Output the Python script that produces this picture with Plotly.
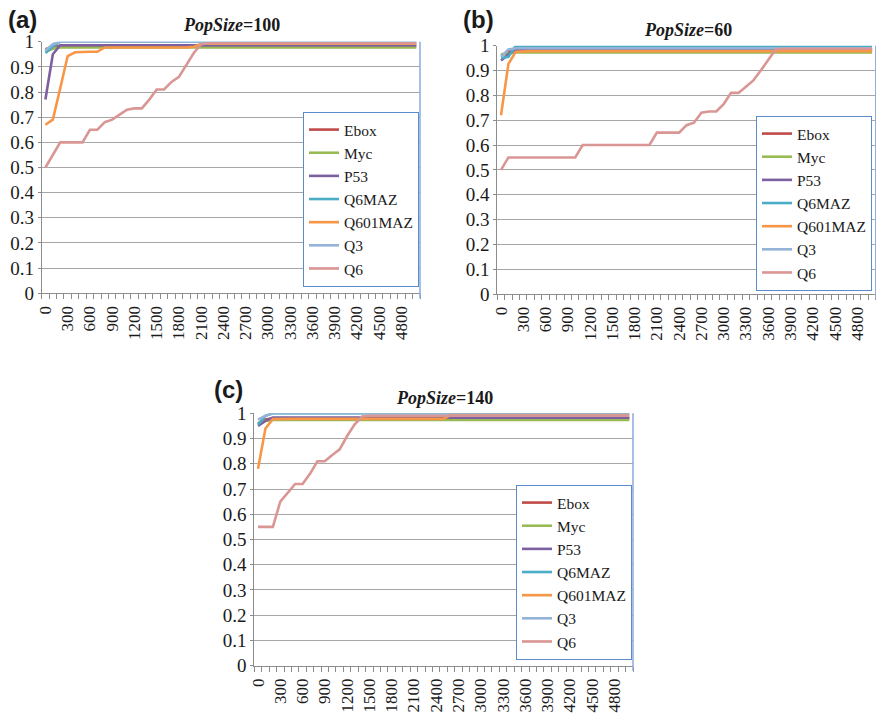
import plotly.graph_objects as go

# ---------------- data ----------------
GENERATIONS = [0, 100, 200, 300, 400, 500, 600, 700, 800, 900,
               1000, 1100, 1200, 1300, 1400, 1500, 1600, 1700, 1800, 1900,
               2000, 2100, 2200, 2300, 2400, 2500, 2600, 2700, 2800, 2900,
               3000, 3100, 3200, 3300, 3400, 3500, 3600, 3700, 3800, 3900,
               4000, 4100, 4200, 4300, 4400, 4500, 4600, 4700, 4800, 4900,
               5000]
TICK_VALUES = [0, 300, 600, 900, 1200, 1500, 1800, 2100, 2400, 2700, 3000,
               3300, 3600, 3900, 4200, 4500, 4800]
TICK_LABELS = ["0", "300", "600", "900", "1200", "1500", "1800", "2100", "2400",
               "2700", "3000", "3300", "3600", "3900", "4200", "4500", "4800"]
SERIES_NAMES = ["Ebox", "Myc", "P53", "Q6MAZ", "Q601MAZ", "Q3", "Q6"]

# (a) PopSize=100
A_EBOX = [0.970, 0.980, 0.983, 0.983, 0.983, 0.983, 0.983, 0.983, 0.983, 0.983,
          0.983, 0.983, 0.983, 0.983, 0.983, 0.983, 0.983, 0.983, 0.983, 0.983,
          0.983, 0.983, 0.983, 0.983, 0.983, 0.983, 0.983, 0.983, 0.983, 0.983,
          0.983, 0.983, 0.983, 0.983, 0.983, 0.983, 0.983, 0.983, 0.983, 0.983,
          0.983, 0.983, 0.983, 0.983, 0.983, 0.983, 0.983, 0.983, 0.983, 0.983,
          0.983]
A_MYC = [0.960, 0.972, 0.977, 0.977, 0.977, 0.977, 0.977, 0.977, 0.977, 0.977,
         0.977, 0.977, 0.977, 0.977, 0.977, 0.977, 0.977, 0.977, 0.977, 0.977,
         0.977, 0.977, 0.977, 0.977, 0.977, 0.977, 0.977, 0.977, 0.977, 0.977,
         0.977, 0.977, 0.977, 0.977, 0.977, 0.977, 0.977, 0.977, 0.977, 0.977,
         0.977, 0.977, 0.977, 0.977, 0.977, 0.977, 0.977, 0.977, 0.977, 0.977,
         0.977]
A_P53 = [0.770, 0.950, 0.986, 0.986, 0.986, 0.986, 0.986, 0.986, 0.986, 0.986,
         0.986, 0.986, 0.986, 0.986, 0.986, 0.986, 0.986, 0.986, 0.986, 0.986,
         0.986, 0.986, 0.986, 0.986, 0.986, 0.986, 0.986, 0.986, 0.986, 0.986,
         0.986, 0.986, 0.986, 0.986, 0.986, 0.986, 0.986, 0.986, 0.986, 0.986,
         0.986, 0.986, 0.986, 0.986, 0.986, 0.986, 0.986, 0.986, 0.986, 0.986,
         0.986]
A_Q6MAZ = [0.955, 0.980, 1.000, 1.000, 1.000, 1.000, 1.000, 1.000, 1.000, 1.000,
           1.000, 1.000, 1.000, 1.000, 1.000, 1.000, 1.000, 1.000, 1.000, 1.000,
           1.000, 1.000, 1.000, 1.000, 1.000, 1.000, 1.000, 1.000, 1.000, 1.000,
           1.000, 1.000, 1.000, 1.000, 1.000, 1.000, 1.000, 1.000, 1.000, 1.000,
           1.000, 1.000, 1.000, 1.000, 1.000, 1.000, 1.000, 1.000, 1.000, 1.000,
           1.000]
A_Q601MAZ = [0.670, 0.690, 0.815, 0.943, 0.958, 0.960, 0.960, 0.960, 0.977, 0.977,
             0.977, 0.977, 0.977, 0.977, 0.977, 0.977, 0.977, 0.977, 0.977, 0.977,
             0.980, 0.992, 0.992, 0.992, 0.992, 0.992, 0.992, 0.992, 0.992, 0.992,
             0.992, 0.992, 0.992, 0.992, 0.992, 0.992, 0.992, 0.992, 0.992, 0.992,
             0.992, 0.992, 0.992, 0.992, 0.992, 0.992, 0.992, 0.992, 0.992, 0.992,
             0.992]
A_Q3 = [0.965, 0.990, 1.000, 1.000, 1.000, 1.000, 1.000, 1.000, 1.000, 1.000,
        1.000, 1.000, 1.000, 1.000, 1.000, 1.000, 1.000, 1.000, 1.000, 1.000,
        1.000, 1.000, 1.000, 1.000, 1.000, 1.000, 1.000, 1.000, 1.000, 1.000,
        1.000, 1.000, 1.000, 1.000, 1.000, 1.000, 1.000, 1.000, 1.000, 1.000,
        1.000, 1.000, 1.000, 1.000, 1.000, 1.000, 1.000, 1.000, 1.000, 1.000,
        1.000]
A_Q6 = [0.500, 0.550, 0.600, 0.600, 0.600, 0.600, 0.650, 0.650, 0.680, 0.690,
        0.710, 0.730, 0.735, 0.735, 0.770, 0.810, 0.810, 0.840, 0.860, 0.910,
        0.955, 0.990, 0.994, 0.994, 0.994, 0.994, 0.994, 0.994, 0.994, 0.994,
        0.994, 0.994, 0.994, 0.994, 0.994, 0.994, 0.994, 0.994, 0.994, 0.994,
        0.994, 0.994, 0.994, 0.994, 0.994, 0.994, 0.994, 0.994, 0.994, 0.994,
        0.994]

# (b) PopSize=60
B_EBOX = [0.960, 0.975, 0.982, 0.982, 0.982, 0.982, 0.982, 0.982, 0.982, 0.982,
          0.982, 0.982, 0.982, 0.982, 0.982, 0.982, 0.982, 0.982, 0.982, 0.982,
          0.982, 0.982, 0.982, 0.982, 0.982, 0.982, 0.982, 0.982, 0.982, 0.982,
          0.982, 0.982, 0.982, 0.982, 0.982, 0.982, 0.982, 0.982, 0.982, 0.982,
          0.982, 0.982, 0.982, 0.982, 0.982, 0.982, 0.982, 0.982, 0.982, 0.982,
          0.982]
B_MYC = [0.965, 0.970, 0.973, 0.973, 0.973, 0.973, 0.973, 0.973, 0.973, 0.973,
         0.973, 0.973, 0.973, 0.973, 0.973, 0.973, 0.973, 0.973, 0.973, 0.973,
         0.973, 0.973, 0.973, 0.973, 0.973, 0.973, 0.973, 0.973, 0.973, 0.973,
         0.973, 0.973, 0.973, 0.973, 0.973, 0.973, 0.973, 0.973, 0.973, 0.973,
         0.973, 0.973, 0.973, 0.973, 0.973, 0.973, 0.973, 0.973, 0.973, 0.973,
         0.973]
B_P53 = [0.940, 0.965, 0.985, 0.985, 0.985, 0.985, 0.985, 0.985, 0.985, 0.985,
         0.985, 0.985, 0.985, 0.985, 0.985, 0.985, 0.985, 0.985, 0.985, 0.985,
         0.985, 0.985, 0.985, 0.985, 0.985, 0.985, 0.985, 0.985, 0.985, 0.985,
         0.985, 0.985, 0.985, 0.985, 0.985, 0.985, 0.985, 0.985, 0.985, 0.985,
         0.985, 0.985, 0.985, 0.985, 0.985, 0.985, 0.985, 0.985, 0.985, 0.985,
         0.985]
B_Q6MAZ = [0.950, 0.955, 1.000, 1.000, 1.000, 1.000, 1.000, 1.000, 1.000, 1.000,
           1.000, 1.000, 1.000, 1.000, 1.000, 1.000, 1.000, 1.000, 1.000, 1.000,
           1.000, 1.000, 1.000, 1.000, 1.000, 1.000, 1.000, 1.000, 1.000, 1.000,
           1.000, 1.000, 1.000, 1.000, 1.000, 1.000, 1.000, 1.000, 1.000, 1.000,
           1.000, 1.000, 1.000, 1.000, 1.000, 1.000, 1.000, 1.000, 1.000, 1.000,
           1.000]
B_Q601MAZ = [0.720, 0.927, 0.976, 0.978, 0.978, 0.978, 0.978, 0.978, 0.978, 0.978,
             0.978, 0.978, 0.978, 0.978, 0.978, 0.978, 0.978, 0.978, 0.978, 0.978,
             0.978, 0.978, 0.978, 0.978, 0.978, 0.978, 0.978, 0.978, 0.978, 0.978,
             0.978, 0.978, 0.978, 0.978, 0.978, 0.978, 0.978, 0.978, 0.978, 0.978,
             0.978, 0.978, 0.978, 0.978, 0.978, 0.978, 0.978, 0.978, 0.978, 0.978,
             0.978]
B_Q3 = [0.955, 0.985, 0.990, 0.990, 0.990, 0.990, 0.990, 0.990, 0.990, 0.990,
        0.990, 0.990, 0.990, 0.990, 0.990, 0.990, 0.990, 0.990, 0.990, 0.990,
        0.990, 0.990, 0.990, 0.990, 0.990, 0.990, 0.990, 0.990, 0.990, 0.990,
        0.990, 0.990, 0.990, 0.990, 0.990, 0.990, 0.990, 0.990, 0.990, 0.990,
        0.990, 0.990, 0.990, 0.990, 0.990, 0.990, 0.990, 0.990, 0.990, 0.990,
        0.990]
B_Q6 = [0.500, 0.550, 0.550, 0.550, 0.550, 0.550, 0.550, 0.550, 0.550, 0.550,
        0.550, 0.600, 0.600, 0.600, 0.600, 0.600, 0.600, 0.600, 0.600, 0.600,
        0.600, 0.650, 0.650, 0.650, 0.650, 0.680, 0.690, 0.730, 0.735, 0.735,
        0.765, 0.810, 0.810, 0.835, 0.860, 0.900, 0.945, 0.985, 0.988, 0.988,
        0.988, 0.988, 0.988, 0.988, 0.988, 0.988, 0.988, 0.988, 0.988, 0.988,
        0.988]

# (c) PopSize=140
C_EBOX = [0.960, 0.975, 0.980, 0.980, 0.980, 0.980, 0.980, 0.980, 0.980, 0.980,
          0.980, 0.980, 0.980, 0.980, 0.980, 0.980, 0.980, 0.980, 0.980, 0.980,
          0.980, 0.980, 0.980, 0.980, 0.980, 0.980, 0.980, 0.980, 0.980, 0.980,
          0.980, 0.980, 0.980, 0.980, 0.980, 0.980, 0.980, 0.980, 0.980, 0.980,
          0.980, 0.980, 0.980, 0.980, 0.980, 0.980, 0.980, 0.980, 0.980, 0.980,
          0.980]
C_MYC = [0.955, 0.970, 0.974, 0.974, 0.974, 0.974, 0.974, 0.974, 0.974, 0.974,
         0.974, 0.974, 0.974, 0.974, 0.974, 0.974, 0.974, 0.974, 0.974, 0.974,
         0.974, 0.974, 0.974, 0.974, 0.974, 0.974, 0.974, 0.974, 0.974, 0.974,
         0.974, 0.974, 0.974, 0.974, 0.974, 0.974, 0.974, 0.974, 0.974, 0.974,
         0.974, 0.974, 0.974, 0.974, 0.974, 0.974, 0.974, 0.974, 0.974, 0.974,
         0.974]
C_P53 = [0.950, 0.970, 0.983, 0.983, 0.983, 0.983, 0.983, 0.983, 0.983, 0.983,
         0.983, 0.983, 0.983, 0.983, 0.983, 0.983, 0.983, 0.983, 0.983, 0.983,
         0.983, 0.983, 0.983, 0.983, 0.983, 0.983, 0.983, 0.983, 0.983, 0.983,
         0.983, 0.983, 0.983, 0.983, 0.983, 0.983, 0.983, 0.983, 0.983, 0.983,
         0.983, 0.983, 0.983, 0.983, 0.983, 0.983, 0.983, 0.983, 0.983, 0.983,
         0.983]
C_Q6MAZ = [0.955, 0.990, 1.000, 1.000, 1.000, 1.000, 1.000, 1.000, 1.000, 1.000,
           1.000, 1.000, 1.000, 1.000, 1.000, 1.000, 1.000, 1.000, 1.000, 1.000,
           1.000, 1.000, 1.000, 1.000, 1.000, 1.000, 1.000, 1.000, 1.000, 1.000,
           1.000, 1.000, 1.000, 1.000, 1.000, 1.000, 1.000, 1.000, 1.000, 1.000,
           1.000, 1.000, 1.000, 1.000, 1.000, 1.000, 1.000, 1.000, 1.000, 1.000,
           1.000]
C_Q601MAZ = [0.780, 0.940, 0.977, 0.978, 0.978, 0.978, 0.978, 0.978, 0.978, 0.978,
             0.978, 0.978, 0.978, 0.978, 0.978, 0.978, 0.978, 0.978, 0.978, 0.978,
             0.978, 0.978, 0.978, 0.978, 0.978, 0.978, 0.995, 0.995, 0.995, 0.995,
             0.995, 0.995, 0.995, 0.995, 0.995, 0.995, 0.995, 0.995, 0.995, 0.995,
             0.995, 0.995, 0.995, 0.995, 0.995, 0.995, 0.995, 0.995, 0.995, 0.995,
             0.995]
C_Q3 = [0.975, 0.990, 1.000, 1.000, 1.000, 1.000, 1.000, 1.000, 1.000, 1.000,
        1.000, 1.000, 1.000, 1.000, 1.000, 1.000, 1.000, 1.000, 1.000, 1.000,
        1.000, 1.000, 1.000, 1.000, 1.000, 1.000, 1.000, 1.000, 1.000, 1.000,
        1.000, 1.000, 1.000, 1.000, 1.000, 1.000, 1.000, 1.000, 1.000, 1.000,
        1.000, 1.000, 1.000, 1.000, 1.000, 1.000, 1.000, 1.000, 1.000, 1.000,
        1.000]
C_Q6 = [0.550, 0.550, 0.550, 0.650, 0.686, 0.720, 0.720, 0.760, 0.810, 0.810,
        0.835, 0.857, 0.910, 0.955, 0.987, 0.990, 0.990, 0.990, 0.990, 0.990,
        0.990, 0.990, 0.990, 0.990, 0.990, 0.990, 0.990, 0.990, 0.990, 0.990,
        0.990, 0.990, 0.990, 0.990, 0.990, 0.990, 0.990, 0.990, 0.990, 0.990,
        0.990, 0.990, 0.990, 0.990, 0.990, 0.990, 0.990, 0.990, 0.990, 0.990,
        0.990]

PANEL_TITLES = ["<b><i>PopSize</i>=100</b>", "<b><i>PopSize</i>=60</b>", "<b><i>PopSize</i>=140</b>"]
PANEL_LETTERS = ["(a)", "(b)", "(c)"]
PANEL_DATA = [
    [A_EBOX, A_MYC, A_P53, A_Q6MAZ, A_Q601MAZ, A_Q3, A_Q6],
    [B_EBOX, B_MYC, B_P53, B_Q6MAZ, B_Q601MAZ, B_Q3, B_Q6],
    [C_EBOX, C_MYC, C_P53, C_Q6MAZ, C_Q601MAZ, C_Q3, C_Q6],
]

# ---------------- styling ----------------
W, H = 876, 716
COLORS = ["#BE4B48", "#98B954", "#7D60A0", "#4AACC5", "#F79646", "#95B3D7", "#D99694"]
GRID = "#A6A6A6"
AXIS = "#8C8C8C"
BORDER_BLUE = "#8AAAD8"
LEGEND_BLUE = "#5B8BC9"
SERIF = "Liberation Serif, Times New Roman, serif"
SANS = "Liberation Sans, Arial, sans-serif"

# plot boxes in pixels: left, right, top, bottom
BOXES = [(41.7, 420.0, 41.7, 293.3),
         (497.3, 875.8, 45.7, 294.0),
         (254.3, 633.0, 413.3, 665.7)]
TITLE_POS = [(231, 25), (688, 30), (444, 398)]
LETTER_POS = [(22, 19), (478, 19), (228, 390)]
LEGEND_POS = [(303, 112), (756, 116), (516, 485)]


def px(x):
    return x / W


def py(y):
    return 1 - y / H


fig = go.Figure()
layout = dict(
    width=W, height=H, autosize=False,
    margin=dict(l=0, r=0, t=0, b=0, pad=0),
    paper_bgcolor="white", plot_bgcolor="white",
    font=dict(family=SERIF, color="#1a1a1a"),
    showlegend=True,
    annotations=[], shapes=[],
)

for p in range(3):
    xa = "x" if p == 0 else f"x{p + 1}"
    ya = "y" if p == 0 else f"y{p + 1}"
    lg = "legend" if p == 0 else f"legend{p + 1}"
    for name, vals, col in zip(SERIES_NAMES, PANEL_DATA[p], COLORS):
        fig.add_trace(go.Scatter(
            x=GENERATIONS, y=vals, name=name, mode="lines",
            line=dict(color=col, width=2.6),
            xaxis=xa, yaxis=ya, legend=lg, showlegend=True,
            cliponaxis=False,
        ))
    l, r, t, b = BOXES[p]
    xkey = "xaxis" if p == 0 else f"xaxis{p + 1}"
    ykey = "yaxis" if p == 0 else f"yaxis{p + 1}"
    layout[xkey] = dict(
        domain=[px(l), px(r)], anchor=ya, range=[-50, 5050],
        tickmode="array", tickvals=TICK_VALUES, ticktext=TICK_LABELS,
        tickangle=-90, ticks="", showgrid=False, zeroline=False,
        showline=True, linecolor=AXIS, linewidth=1,
        tickfont=dict(family=SERIF, size=17, color="#1a1a1a"),
        ticklabelstandoff=5,
        minor=dict(ticks="outside", tick0=-50, dtick=100, ticklen=5,
                   tickcolor=AXIS, tickwidth=1, showgrid=False),
        automargin=False, fixedrange=True,
    )
    layout[ykey] = dict(
        domain=[py(b), py(t)], anchor=xa, range=[0, 1],
        tickmode="linear", tick0=0, dtick=0.1,
        ticks="outside", ticklen=3, tickcolor=AXIS,
        showgrid=True, gridcolor=GRID, gridwidth=1, zeroline=False,
        showline=True, linecolor=AXIS, linewidth=1,
        tickfont=dict(family=SERIF, size=19, color="#1a1a1a"),
        automargin=False, fixedrange=True,
    )
    lx, ly = LEGEND_POS[p]
    layout[lg] = dict(
        x=px(lx), y=py(ly), xanchor="left", yanchor="top",
        xref="paper", yref="paper",
        bgcolor="white", bordercolor=LEGEND_BLUE, borderwidth=1,
        font=dict(family=SERIF, size=15.5, color="#1a1a1a"),
        itemwidth=30, tracegroupgap=0,
    )
    # right-hand border of the chart area (light blue)
    layout["shapes"].append(dict(
        type="line", xref=f"{xa} domain", yref=f"{ya} domain",
        x0=1, x1=1, y0=-0.02, y1=1, line=dict(color=BORDER_BLUE, width=1.5),
    ))
    tx, ty = TITLE_POS[p]
    layout["annotations"].append(dict(
        text=PANEL_TITLES[p], x=px(tx), y=py(ty), xref="paper", yref="paper",
        xanchor="center", yanchor="middle", showarrow=False,
        font=dict(family=SERIF, size=18, color="#1a1a1a"),
    ))
    lx2, ly2 = LETTER_POS[p]
    layout["annotations"].append(dict(
        text="<b>" + PANEL_LETTERS[p] + "</b>", x=px(lx2), y=py(ly2),
        xref="paper", yref="paper", xanchor="center", yanchor="middle",
        showarrow=False, font=dict(family=SANS, size=24, color="#1a1a1a"),
    ))

fig.update_layout(**layout)
# remove the browser's default page margin so the figure sits at the window's corner
fig.write_html("out.html", config={"displayModeBar": False},
               post_script="document.body.style.margin='0';")
